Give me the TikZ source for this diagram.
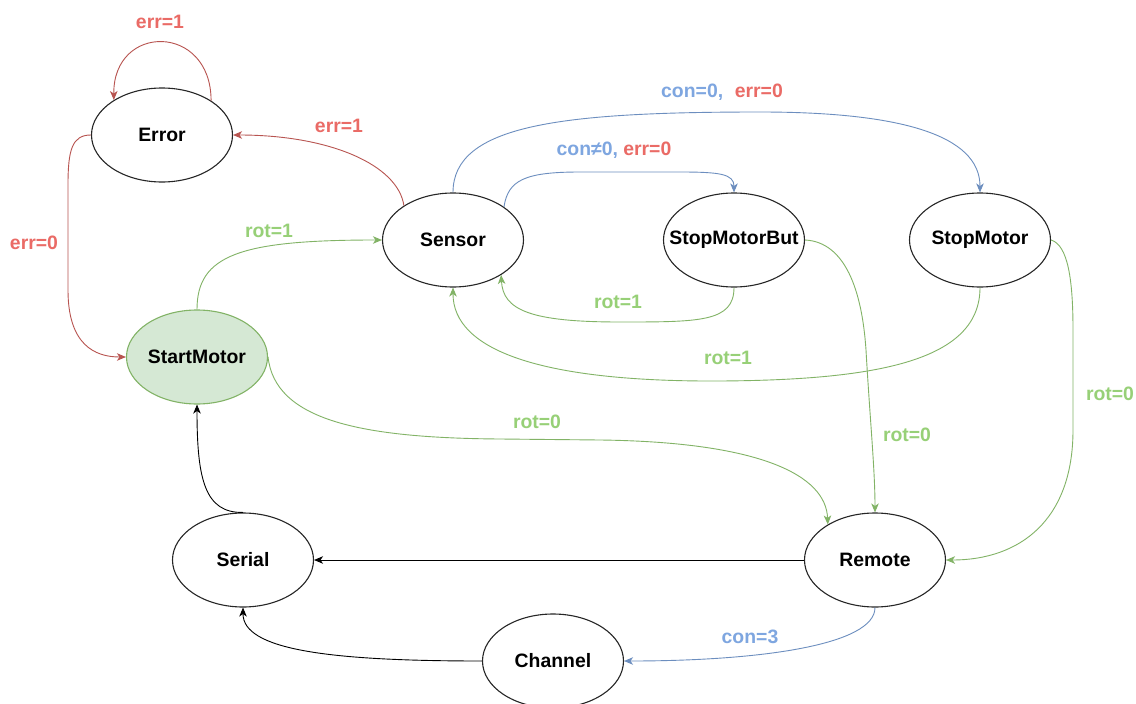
\documentclass[tikz,border=0pt]{standalone}
\usepackage{fontspec}
\setmainfont{Liberation Sans}
\usetikzlibrary{arrows.meta,shapes.geometric}
\definecolor{redE}{HTML}{B85450}
\definecolor{redL}{HTML}{EA6B66}
\definecolor{greenE}{HTML}{82B366}
\definecolor{greenL}{HTML}{97D077}
\definecolor{blueE}{HTML}{6C8EBF}
\definecolor{blueL}{HTML}{7EA6E0}
\definecolor{greenF}{HTML}{D5E8D4}
\tikzset{
 every node/.style={font=\fontsize{19.4}{23}\selectfont\bfseries},
 state/.style={ellipse, draw=black!85, line width=1.1pt, minimum width=141pt, minimum height=94pt, inner sep=0pt, fill=white},
 startstate/.style={state, draw=greenE, fill=greenF},
 conn/.style={line width=0.9pt, -{Stealth[length=9pt,width=7.5pt,inset=2.5pt]}},
 redconn/.style={conn, draw=redE},
 greenconn/.style={conn, draw=greenE},
 blueconn/.style={conn, draw=blueE},
 blackconn/.style={conn, draw=black},
 lbl/.style={inner sep=0pt},
 redlbl/.style={lbl, text=redL},
 greenlbl/.style={lbl, text=greenL},
 bluelbl/.style={lbl, text=blueL},
}
\begin{document}
\begin{tikzpicture}[x=1pt,y=-1pt]
\fill[white] (0,0) rectangle (1136,704);
\useasboundingbox (0,0) rectangle (1136,704);

% states
\node[state, label={center:Error}] (err) at (162,135) {};
\node[state, label={center:Sensor}] (sen) at (453,240) {};
\node[state, label={center:StopMotorBut}] (smb) at (734,240) {};
\node[state, label={center:StopMotor}] (stm) at (980,240) {};
\node[startstate, label={center:StartMotor}] (sta) at (197,357) {};
\node[state, label={center:Serial}] (ser) at (243,560) {};
\node[state, label={center:Remote}] (rem) at (875,560) {};
\node[state, label={center:Channel}] (cha) at (553,661) {};

% Error self loop
\draw[redconn] (err.35.5) .. controls (211,23) and (113,23) .. (err.144.5);
\node[redlbl] (l1) at (160,22) {err=1};

% Sensor -> Error
\draw[redconn] (sen.145.5) .. controls (398,165) and (330,135) .. (err.east);
\node[redlbl] (l2) at (339,126) {err=1};

% Error -> StartMotor
\draw[redconn] (err.west) .. controls (72,135) and (68,150) .. (68,185) -- (68,290) .. controls (68,345) and (95,357) .. (sta.west);
\node[redlbl] (l3) at (34,243) {err=0};

% StartMotor -> Sensor
\draw[greenconn] (sta.north) .. controls (197,255) and (240,240) .. (sen.west);
\node[greenlbl] (l4) at (269,231) {rot=1};

% Sensor -> StopMotorBut
\draw[blueconn] (sen.33.4) .. controls (508,180) and (525,172) .. (580,172) -- (680,172) .. controls (720,172) and (734,174) .. (smb.north);
\node[lbl] (l5) at (614,150) {\textcolor{blueL}{con≠0,} \textcolor{redL}{err=0}};

% Sensor -> StopMotor
\draw[blueconn] (sen.north) .. controls (453,125) and (560,112) .. (760,112) .. controls (900,112) and (980,135) .. (stm.north);
\node[lbl] (l6) at (722,92) {\textcolor{blueL}{con=0,}\hspace{0.6em}\textcolor{redL}{err=0}};

% StopMotorBut -> Sensor
\draw[greenconn] (smb.south) .. controls (734,322) and (700,322) .. (620,322) .. controls (530,322) and (503,310) .. (sen.-36);
\node[greenlbl] (l7) at (618,302) {rot=1};

% StopMotor -> Sensor
\draw[greenconn] (stm.south) .. controls (980,360) and (880,380) .. (720,381) .. controls (540,382) and (453,350) .. (sen.south);
\node[greenlbl] (l8) at (728,358) {rot=1};

% StartMotor -> Remote
\draw[greenconn] (sta.east) .. controls (275,420) and (360,438) .. (500,439) -- (600,440) .. controls (760,442) and (826,475) .. (rem.143);
\node[greenlbl] (l9) at (537,422) {rot=0};

% StopMotorBut -> Remote
\draw[greenconn] (smb.east) .. controls (845,242) and (862,290) .. (866,350) .. controls (870,420) and (875,470) .. (rem.north);
\node[greenlbl] (l10) at (907,435) {rot=0};

% StopMotor -> Remote
\draw[greenconn] (stm.east) .. controls (1068,245) and (1073,280) .. (1073,330) -- (1073,430) .. controls (1073,520) and (1020,560) .. (rem.east);
\node[greenlbl] (l11) at (1110,394) {rot=0};

% Remote -> Serial
\draw[blackconn] (rem.west) -- (ser.east);

% Serial -> StartMotor
\draw[blackconn] (ser.north) .. controls (205,513) and (197,480) .. (sta.south);

% Channel -> Serial
\draw[blackconn] (cha.west) .. controls (330,661) and (243,650) .. (ser.south);

% Remote -> Channel
\draw[blueconn] (rem.south) .. controls (875,645) and (760,661) .. (cha.east);
\node[bluelbl] (l12) at (750,637) {con=3};
\end{tikzpicture}
\end{document}
